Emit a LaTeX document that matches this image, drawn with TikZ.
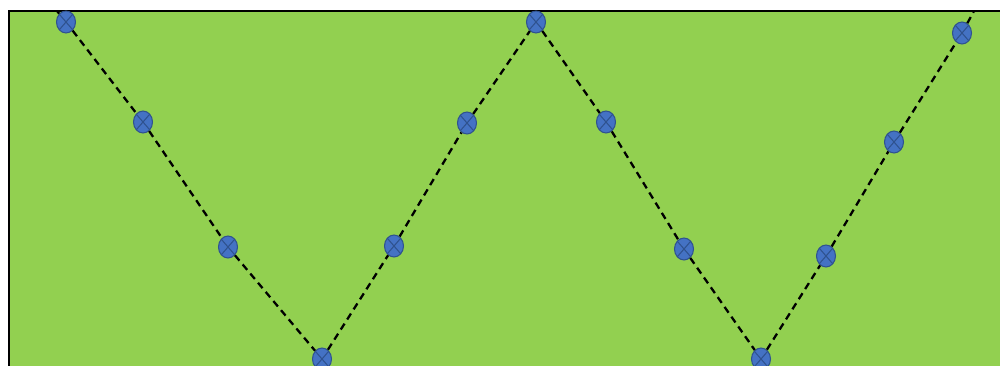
\documentclass[tikz,border=0pt]{standalone}
\usetikzlibrary{shapes.geometric}
\definecolor{field}{HTML}{92D050}
\definecolor{markfill}{HTML}{4472C4}
\definecolor{markedge}{HTML}{2F528F}
\begin{document}
\begin{tikzpicture}[x=0.02cm,y=-0.02cm,
  every node/.style={ellipse,draw=markedge,fill=markfill,line width=0.6pt,
    minimum width=0.38cm,minimum height=0.44cm,inner sep=0pt,
    path picture={\draw[markedge,line width=0.6pt]
      (path picture bounding box.north west) -- (path picture bounding box.south east)
      (path picture bounding box.north east) -- (path picture bounding box.south west);}},
  zig/.style={line width=1.3pt,dash pattern=on 4pt off 2.8pt}]
\useasboundingbox (0,0) rectangle (1000,365);
\filldraw[fill=field,draw=black,line width=1.2pt] (9,11) rectangle (1020,385);

\coordinate (s) at (57,11);
\coordinate (e) at (974,11);
\node (1) at (66,22) {};
\node (2) at (143,122) {};
\node (3) at (228,247) {};
\node (4) at (322,359) {};
\node (5) at (394,246) {};
\node (6) at (467,123) {};
\node (7) at (536,22) {};
\node (8) at (606,122) {};
\node (9) at (684,249) {};
\node (10) at (761,359) {};
\node (11) at (826,256) {};
\node (12) at (894,142) {};
\node (13) at (962,33) {};

\draw[zig] (s) -- (1);
\foreach \i [count=\j from 2] in {1,...,12}{
  \draw[zig] (\i) -- (\j);
}
\draw[zig] (13) -- (e);
\end{tikzpicture}
\end{document}
